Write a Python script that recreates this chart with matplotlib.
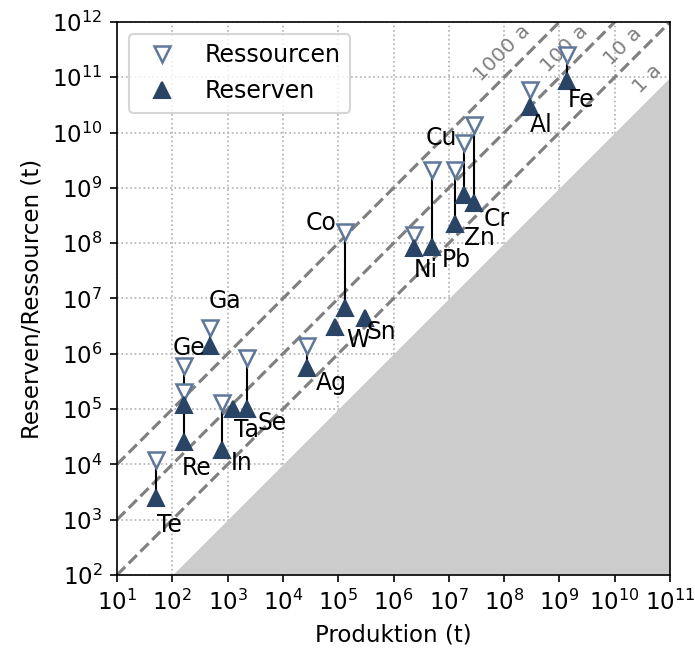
import numpy as np
import matplotlib
matplotlib.use("Agg")
import matplotlib.pyplot as plt

plt.rcParams['font.family'] = ['DejaVu Sans']
plt.rcParams['font.size'] = 11

elements = ['Te', 'Re', 'Ge', 'Ga', 'In', 'Ta', 'Se', 'Ag', 'W', 'Co', 'Sn',
            'Ni', 'Pb', 'Zn', 'Cu', 'Cr', 'Al', 'Fe']
production = [50, 160, 160, 480, 780, 1230, 2240, 2.7e4, 8.9e4, 1.3e5, 3e5,
              2.3e6, 5e6, 1.3e7, 1.9e7, 2.9e7, 3e8, 1.4e9]
reserves = [2.5e3, 2.5e4, 1.2e5, 1.4e6, 1.8e4, 1e5, 1e5, 5.5e5, 3.1e6, 6.7e6, 4.5e6,
            8.2e7, 8.6e7, 2.2e8, 7.5e8, 5.3e8, 2.9e10, 8.6e10]
resources = [1.2e4, 2e5, 6e5, 2.9e6, 1.3e5, np.nan, 8.4e5, 1.4e6, np.nan, 1.6e8, np.nan,
             1.4e8, 2.1e9, 2.1e9, 6.4e9, 1.4e10, 5.9e10, 2.5e11]
ratio_lines = [1, 10, 100, 1000]
ratio_labels = ['1 a', '10 a', '100 a', '1000 a']

# label offsets in pixels (dx right, dy down) and anchor ('res' = reserve, 'rsc' = resource)
label_offsets = {
    'Te': ('res', 14, 27), 'Re': ('res', 13, 26), 'Ge': ('rsc', 5, -18),
    'Ga': ('rsc', 15, -27), 'In': ('res', 20, 13), 'Ta': ('res', 14, 21),
    'Se': ('res', 25, 14), 'Ag': ('res', 25, 15), 'W': ('res', 22, 13),
    'Sn': ('res', 17, 14), 'Co': ('rsc', -24, -9), 'Ni': ('res', 12, 22),
    'Pb': ('res', 24, 13), 'Zn': ('res', 24, 14), 'Cr': ('res', 22, 16),
    'Cu': ('rsc', -23, -5), 'Al': ('res', 11, 18), 'Fe': ('res', 14, 19),
}
# ratio label centres (log10 x, log10 y)
ratio_label_pos = {'1 a': (10.60, 10.98), '10 a': (10.15, 11.56),
                   '100 a': (9.10, 11.52), '1000 a': (7.96, 11.44)}

DPI = 150
fig = plt.figure(figsize=(695 / DPI, 649 / DPI), dpi=DPI)
ax = fig.add_axes([117 / 695, 1 - 575 / 649, 553 / 695, 553 / 649])
ax.set_xscale('log')
ax.set_yscale('log')
ax.set_xlim(1e1, 1e11)
ax.set_ylim(1e2, 1e12)

xx = np.logspace(1, 11, 200)
ax.fill_between(xx, 1e2, np.minimum(xx, 1e12), color='#cccccc', lw=0, zorder=1)
for r in ratio_lines[1:]:
    ax.plot(xx, xx * r, ls='--', color='#808080', lw=1.5, zorder=2)

for lab in ratio_labels:
    lx, ly = ratio_label_pos[lab]
    ax.text(10 ** lx, 10 ** ly, lab, rotation=45, ha='center', va='center',
            color='#808080', fontsize=9.8, zorder=1.5)

ax.grid(True, which='major', ls=':', color='#b0b0b0', lw=0.8, zorder=0)
ax.set_axisbelow(True)

prod = np.array(production, dtype=float)
res = np.array(reserves, dtype=float)
rsc = np.array(resources, dtype=float)
mask = ~np.isnan(rsc)
ax.vlines(prod[mask], res[mask], rsc[mask], color='black', lw=1.0, zorder=3)

dark = '#2a4466'
light = '#5f7799'
ax.plot(prod[mask], rsc[mask], ls='none', marker='v', ms=7.3, mfc='white',
        mec=light, mew=1.2, zorder=4, label='Ressourcen')
ax.plot(prod, res, ls='none', marker='^', ms=7.3, mfc=dark, mec=dark,
        zorder=5, label='Reserven')

for i, el in enumerate(elements):
    anchor, dx, dy = label_offsets[el]
    yv = res[i] if anchor == 'res' else rsc[i]
    ax.annotate(el, (prod[i], yv), xytext=(dx * 72 / DPI, -dy * 72 / DPI),
                textcoords='offset points', ha='center', va='center',
                fontsize=11.3, zorder=6)

ax.set_xticks([10.0 ** k for k in range(1, 12)])
ax.set_yticks([10.0 ** k for k in range(2, 13)])
ax.minorticks_off()
ax.tick_params(direction='out', labelsize=11)
ax.set_xlabel('Produktion (t)', fontsize=11)
ax.set_ylabel('Reserven/Ressourcen (t)', fontsize=11)
ax.legend(loc='upper left', numpoints=1, fontsize=11.4)

fig.savefig('out.png', dpi=DPI)
